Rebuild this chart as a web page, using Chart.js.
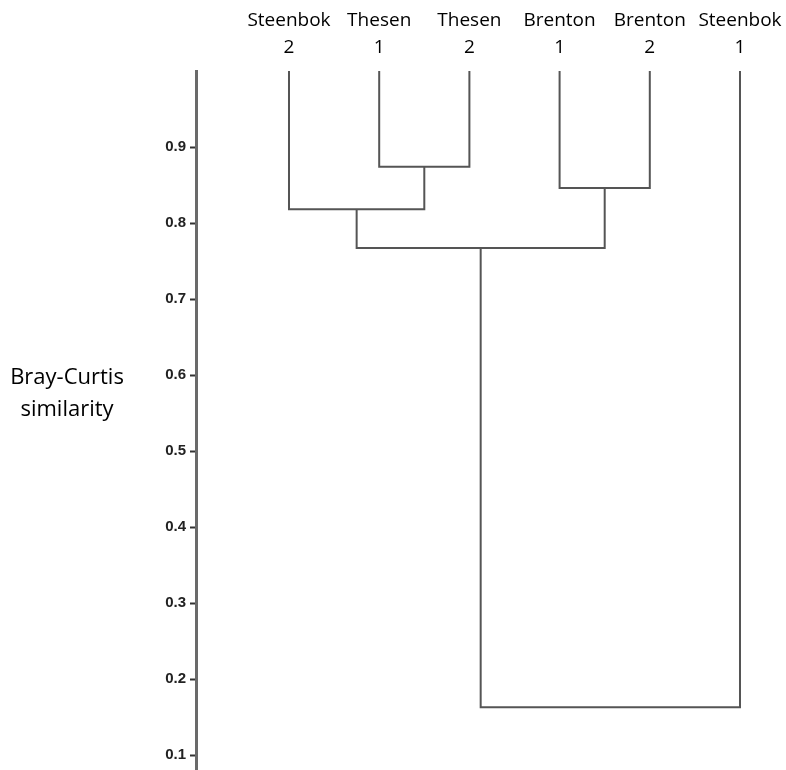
<!DOCTYPE html>
<html>
<head>
<meta charset="utf-8">
<script src="https://cdn.jsdelivr.net/npm/chart.js@4.4.1/dist/chart.umd.min.js"></script>
<style>
  html, body { margin: 0; padding: 0; background: #fff; }
  #wrap { width: 786px; height: 770px; }
</style>
</head>
<body>
<div id="wrap"><canvas id="dendro" width="786" height="770"></canvas></div>
<script>
// leaves, left to right
const leafNames = [['Steenbok', '2'], ['Thesen', '1'], ['Thesen', '2'], ['Brenton', '1'], ['Brenton', '2'], ['Steenbok', '1']];
const leafTop = 1.0;
// merges: ids 0-5 are leaves, 6+ are earlier merges
const mergeLeft = [1, 3, 0, 8, 9];
const mergeRight = [2, 4, 6, 7, 5];
const mergeHeight = [0.874, 0.846, 0.818, 0.767, 0.163];
const yTicks = [0.1, 0.2, 0.3, 0.4, 0.5, 0.6, 0.7, 0.8, 0.9];
const yTitle = ['Bray-Curtis', 'similarity'];

const lineColor = '#555';

// build node positions from the linkage
const nodeX = leafNames.map((_, i) => i);
const nodeH = leafNames.map(() => leafTop);
const datasets = [];
mergeHeight.forEach((h, k) => {
    const l = mergeLeft[k], r = mergeRight[k];
    datasets.push({
        data: [
            { x: nodeX[l], y: nodeH[l] },
            { x: nodeX[l], y: h },
            { x: nodeX[r], y: h },
            { x: nodeX[r], y: nodeH[r] }
        ],
        showLine: true,
        borderColor: lineColor,
        borderWidth: 2,
        pointRadius: 0,
        fill: false,
        clip: false
    });
    nodeX.push((nodeX[l] + nodeX[r]) / 2);
    nodeH.push(h);
});

const yTitlePlugin = {
    id: 'yTitle',
    afterDraw(chart) {
        const ctx = chart.ctx;
        ctx.save();
        ctx.fillStyle = '#000';
        ctx.font = '22px "Open Sans", sans-serif';
        ctx.textAlign = 'center';
        ctx.textBaseline = 'middle';
        ctx.fillText(yTitle[0], 67, 378);
        ctx.fillText(yTitle[1], 67, 410);
        ctx.restore();
    }
};

new Chart(document.getElementById('dendro').getContext('2d'), {
    type: 'scatter',
    data: { datasets },
    options: {
        responsive: false,
        animation: false,
        layout: { padding: 0 },
        plugins: {
            legend: { display: false },
            tooltip: { enabled: false }
        },
        scales: {
            x: {
                type: 'linear',
                position: 'top',
                min: -1.031,
                max: 5.51,
                afterBuildTicks: (scale) => { scale.ticks = leafNames.map((_, i) => ({ value: i })); },
                afterFit: (scale) => {
                    scale.height = 71;
                    scale.paddingLeft = 0;
                    scale.paddingRight = 0;
                },
                grid: { display: false },
                border: { display: false },
                ticks: {
                    autoSkip: false,
                    maxRotation: 0,
                    padding: 2,
                    color: '#000',
                    font: { family: '"Open Sans", sans-serif', size: 19, lineHeight: 1.43 },
                    callback: (v) => leafNames[v]
                }
            },
            y: {
                type: 'linear',
                min: 0.0803,
                max: 1.0,
                afterBuildTicks: (scale) => { scale.ticks = yTicks.map(v => ({ value: v })); },
                afterFit: (scale) => {
                    scale.width = 196;
                    scale.paddingTop = 0;
                    scale.paddingBottom = 0;
                },
                grid: {
                    drawOnChartArea: false,
                    drawTicks: true,
                    tickLength: 6,
                    tickWidth: 2,
                    color: '#333'
                },
                border: { display: true, color: '#6a6a6a', width: 3 },
                ticks: {
                    padding: 4,
                    color: '#222',
                    font: { family: '"Liberation Sans", Arial, sans-serif', size: 15, weight: 'bold' },
                    callback: (v) => v.toFixed(1)
                }
            }
        }
    },
    plugins: [yTitlePlugin]
});
</script>
</body>
</html>
